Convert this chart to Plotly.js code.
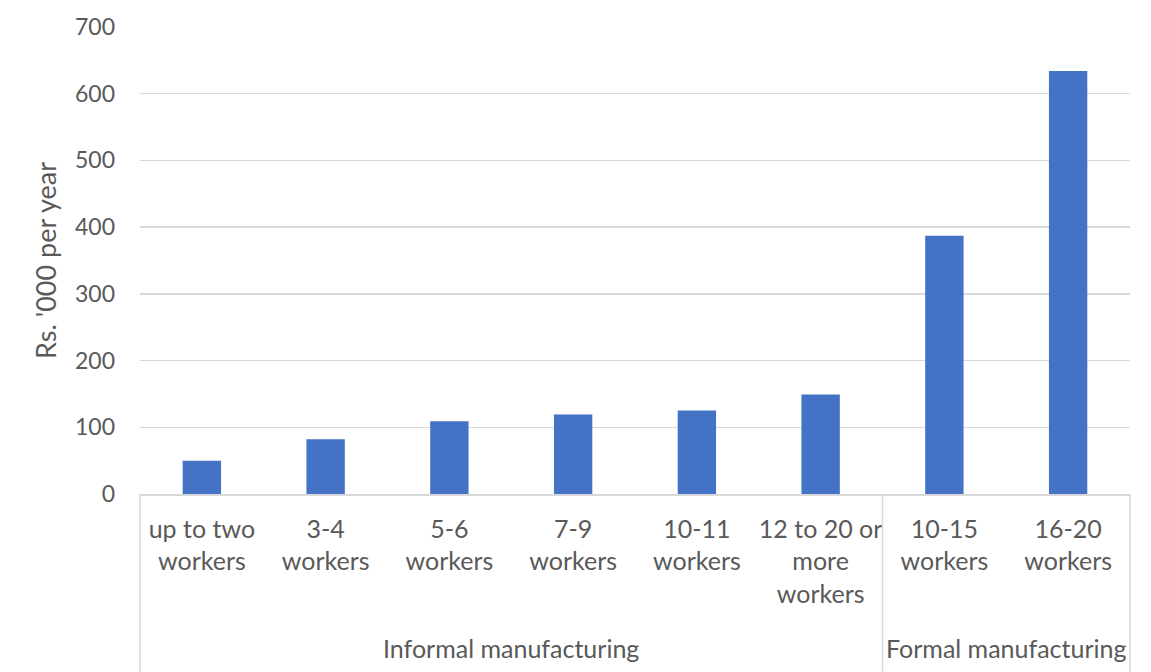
<!DOCTYPE html>
<html>
<head>
<meta charset="utf-8">
<script src="https://cdn.plot.ly/plotly-3.0.1.min.js"></script>
<style>html,body{margin:0;padding:0;background:#fff;}#chart{width:1151px;height:672px;}</style>
</head>
<body>
<div id="chart"></div>
<script>
const categories = ["up to two workers", "3-4 workers", "5-6 workers", "7-9 workers", "10-11 workers", "12 to 20 or more workers", "10-15 workers", "16-20 workers"];
const tickLabels = ["up to two<br>workers", "3-4<br>workers", "5-6<br>workers", "7-9<br>workers", "10-11<br>workers", "12 to 20 or<br>more<br>workers", "10-15<br>workers", "16-20<br>workers"];
const groups = ["Informal manufacturing", "Informal manufacturing", "Informal manufacturing", "Informal manufacturing", "Informal manufacturing", "Informal manufacturing", "Formal manufacturing", "Formal manufacturing"];
const values = [50, 82, 109, 119, 125, 149, 387, 634];
const yTitle = "Rs. '000 per year";

const FONT = "Lato, 'Open Sans', sans-serif";
const GREY = "#595959";
const LINE = "#d9d9d9";

// group spans
const spans = [];
groups.forEach((g, i) => {
  if (!spans.length || spans[spans.length - 1].name !== g) spans.push({name: g, start: i, end: i});
  else spans[spans.length - 1].end = i;
});
const n = categories.length;
const annotations = spans.map(s => ({
  x: (s.start + s.end) / 2,
  xref: 'x', y: 0, yref: 'paper', yshift: -154, yanchor: 'middle', xanchor: 'center',
  text: s.name, showarrow: false, font: {family: FONT, size: 25, color: GREY}
}));
const shapes = [];
const bounds = [0];
spans.forEach(s => bounds.push(s.end + 1));
bounds.forEach(b => shapes.push({
  type: 'line', xref: 'paper', yref: 'paper', x0: b / n, x1: b / n, y0: 0, y1: -0.4,
  line: {color: LINE, width: 1.5}
}));

const trace = {
  type: 'bar', x: categories, y: values,
  marker: {color: '#4472C4'}, hoverinfo: 'x+y'
};

const layout = {
  width: 1151, height: 672,
  margin: {l: 140, r: 21, t: 27, b: 178},
  paper_bgcolor: '#fff', plot_bgcolor: '#fff',
  font: {family: FONT, size: 23, color: GREY},
  bargap: 0.69,
  showlegend: false,
  xaxis: {
    type: 'category', tickmode: 'array', tickvals: categories, ticktext: tickLabels,
    showgrid: false, showline: true, linecolor: LINE, linewidth: 1.5,
    ticks: '', ticklabelstandoff: 12, tickangle: 0, zeroline: false,
    range: [-0.5, n - 0.5], fixedrange: true,
    tickfont: {family: FONT, size: 25, color: GREY}
  },
  yaxis: {
    range: [0, 700], dtick: 100, tick0: 0,
    showgrid: true, gridcolor: LINE, gridwidth: 1.5, zeroline: false,
    showline: false, ticks: '', ticklabelstandoff: 24,
    tickfont: {family: FONT, size: 23, color: GREY},
    title: {text: yTitle, font: {family: FONT, size: 27, color: GREY}, standoff: 10},
    fixedrange: true
  },
  annotations: annotations,
  shapes: shapes
};

Plotly.newPlot('chart', [trace], layout, {displayModeBar: false, staticPlot: true});
</script>
</body>
</html>
